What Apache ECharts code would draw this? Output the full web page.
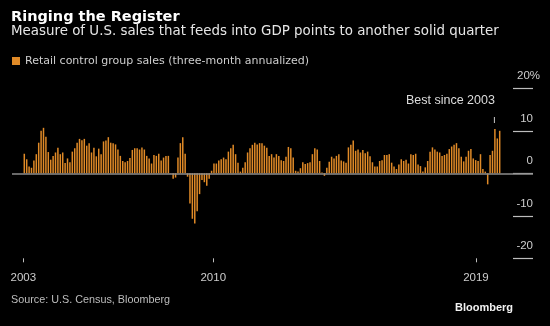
<!DOCTYPE html>
<html>
<head>
<meta charset="utf-8">
<script src="https://cdn.jsdelivr.net/npm/echarts@6/dist/echarts.min.js"></script>
<style>
  html, body { margin: 0; padding: 0; background: #000; }
  #chart { width: 550px; height: 326px; }
</style>
</head>
<body>
<div id="chart"></div>
<script>
// Retail control group sales, three-month annualized % change, monthly from 2003
const seriesName = 'Retail control group sales (three-month annualized)';
const sales = [
  4.6, 3.3, 1.6, 1.3, 3.0, 4.5, 7.2, 10.0, 10.7, 8.6, 5.0, 3.2,
  4.1, 4.9, 6.0, 4.5, 4.9, 2.4, 3.5, 2.6, 5.1, 5.9, 7.2, 8.1,
  7.8, 8.1, 6.5, 7.1, 4.9, 6.0, 4.0, 5.8, 4.5, 7.5, 7.7, 8.5,
  7.2, 7.1, 6.8, 5.6, 4.1, 2.9, 2.6, 2.9, 3.6, 5.5, 5.9, 5.9,
  5.6, 6.1, 5.6, 4.1, 3.5, 2.3, 4.3, 4.1, 4.6, 3.0, 3.7, 4.1,
  4.1, 0.1, -1.3, -1.0, 3.7, 7.1, 8.5, 4.6, -0.8, -7.1, -10.7, -11.8,
  -8.9, -4.9, -1.6, -2.1, -2.9, -1.3, 0.6, 2.3, 2.3, 3.0, 3.3, 3.7,
  3.3, 5.1, 5.9, 6.7, 4.5, 2.5, 0.4, 1.3, 2.6, 4.9, 5.9, 6.7,
  7.2, 6.8, 7.1, 7.1, 6.5, 6.0, 4.1, 4.5, 3.7, 4.5, 4.1, 3.1,
  2.9, 3.9, 6.2, 5.9, 3.7, 0.6, 0.4, 1.2, 2.6, 2.2, 2.4, 2.6,
  4.5, 5.9, 5.6, 2.9, 0.2, -0.6, 1.3, 2.7, 3.9, 3.5, 4.1, 4.5,
  3.0, 2.8, 2.5, 6.1, 6.7, 7.7, 5.3, 5.6, 4.9, 5.5, 4.7, 5.1,
  4.0, 2.6, 1.6, 1.6, 2.9, 3.1, 4.3, 4.3, 4.5, 2.5, 1.6, 1.0,
  2.1, 3.3, 2.9, 3.2, 2.3, 4.5, 4.3, 4.6, 2.1, 1.7, 0.4, 1.4,
  2.9, 5.1, 6.1, 5.6, 5.1, 4.9, 4.1, 4.3, 4.6, 5.7, 6.3, 6.7,
  7.1, 5.9, 3.9, 2.8, 3.9, 5.3, 5.7, 3.5, 3.1, 2.9, 4.5, 1.0,
  0.4, -2.6, 4.3, 5.3, 10.4, 8.2, 10.0
];

// Year labels on the time axis, placed in month-index units
const yearTickAt = [-0.4, 78.7, 188.1];
const yearLabels = ['2003', '2010', '2019'];

// Value-axis ticks
const yTicks = [-20, -10, 0, 10, 20];

// Callout on the strongest recent reading
const bestIndex = 196;
const bestText = 'Best since 2003';

const FONT = "'Liberation Sans', Arial, sans-serif";
const DEJAVU = "'DejaVu Sans', sans-serif";
const ORANGE = '#e08a27';

const barData = sales.map((v, i) => {
  const item = { value: [i, v] };
  if (i === bestIndex) {
    item.label = {
      show: true,
      position: 'top',
      distance: 6,
      align: 'right',
      formatter: '{t|' + bestText + '}\n{k| }',
      rich: {
        t: { fontFamily: FONT, fontSize: 12.5, color: '#dcdcdc', lineHeight: 34, align: 'right' },
        k: { width: 1, height: 6, lineHeight: 6, fontSize: 6, backgroundColor: '#c8c8c8', align: 'right' }
      }
    };
  }
  return item;
});

const chart = echarts.init(document.getElementById('chart'), null, { renderer: 'canvas' });

chart.setOption({
  animation: false,
  backgroundColor: '#000',
  title: [
    {
      text: 'Ringing the Register',
      left: 11, top: 9.5, padding: 0,
      textStyle: { fontFamily: DEJAVU, fontWeight: 'bold', fontSize: 14.5, color: '#ffffff' }
    },
    {
      text: 'Measure of U.S. sales that feeds into GDP points to another solid quarter',
      left: 11, top: 25.5, padding: 0,
      textStyle: { fontFamily: DEJAVU, fontWeight: 'normal', fontSize: 13.4, color: '#e6e6e6' }
    },
    {
      text: 'Source: U.S. Census, Bloomberg',
      left: 11, top: 294.5, padding: 0,
      textStyle: { fontFamily: FONT, fontWeight: 'normal', fontSize: 10.8, color: '#bdbdbd' }
    },
    {
      text: 'Bloomberg',
      right: 37, top: 302.5, padding: 0,
      textStyle: { fontFamily: FONT, fontWeight: 'bold', fontSize: 11, color: '#f2f2f2' }
    }
  ],
  legend: {
    data: [seriesName],
    left: 12, top: 55.5, padding: 0,
    icon: 'rect', itemWidth: 8, itemHeight: 8, itemGap: 10,
    textStyle: { fontFamily: DEJAVU, fontSize: 11, color: '#cfcfcf' }
  },
  // plot spans x 12..533; value-axis ticks point inward from the right edge
  grid: { left: 12, right: 17, top: 88.3, bottom: 67.7 },
  xAxis: {
    type: 'value',
    min: -5.12,
    max: 211.87,
    splitLine: { show: false },
    axisLine: { show: false, onZero: false },
    axisTick: {
      show: true, length: 4, customValues: yearTickAt,
      lineStyle: { color: '#bdbdbd', width: 1 }
    },
    axisLabel: {
      customValues: yearTickAt,
      margin: 13.5,
      fontFamily: FONT, fontSize: 11.5, color: '#cdcdcd',
      formatter: (v) => {
        const k = yearTickAt.findIndex((t) => Math.abs(t - v) < 1e-6);
        return k >= 0 ? yearLabels[k] : '';
      }
    }
  },
  yAxis: {
    type: 'value',
    position: 'right',
    min: yTicks[0],
    max: yTicks[yTicks.length - 1],
    interval: 10,
    splitLine: { show: false },
    axisLine: { show: false, onZero: false },
    axisTick: { show: true, inside: true, length: 20, lineStyle: { color: '#bdbdbd', width: 1.2 } },
    axisLabel: {
      inside: false,
      margin: 7,
      align: 'right',
      verticalAlign: 'bottom',
      formatter: (v) => (v === yTicks[yTicks.length - 1] ? '{v|' + v + '%}' : '{v|' + v + '}{p|}'),
      rich: {
        v: { fontFamily: FONT, fontSize: 11.5, color: '#cdcdcd', lineHeight: 24 },
        p: { width: 7, lineHeight: 24 }
      }
    }
  },
  series: [
    {
      name: seriesName,
      type: 'bar',
      barWidth: 1.5,
      itemStyle: { color: ORANGE },
      data: barData,
      markLine: {
        silent: true,
        symbol: 'none',
        label: { show: false },
        lineStyle: { color: '#8c8c8c', width: 1.5, type: 'solid' },
        data: [{ yAxis: 0 }]
      }
    }
  ]
});
</script>
</body>
</html>
